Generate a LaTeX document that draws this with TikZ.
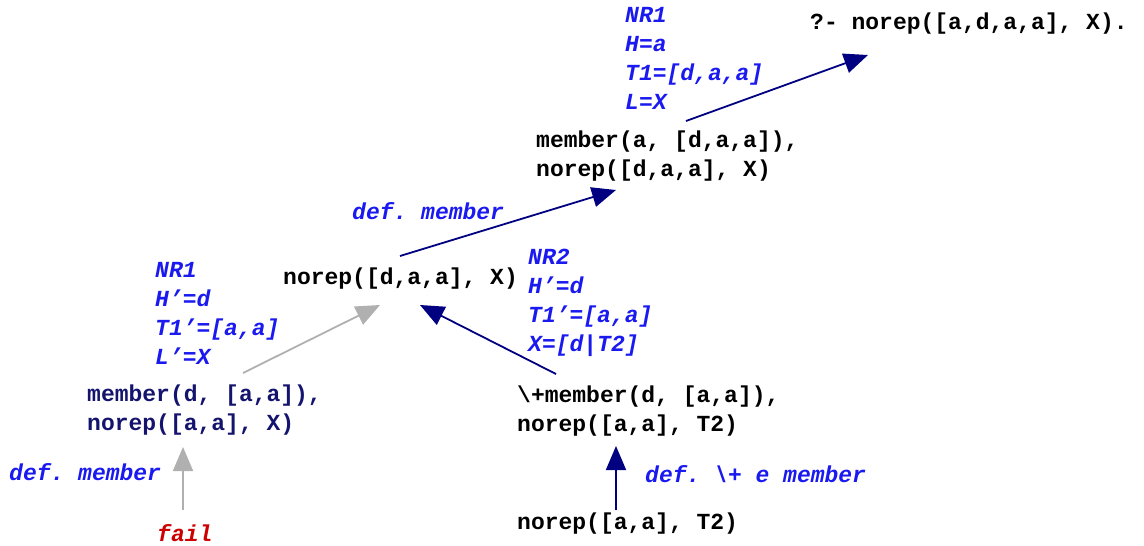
\documentclass[tikz,border=0pt]{standalone}
\usepackage{fontspec}
\setmonofont{Liberation Mono}
\usetikzlibrary{arrows.meta}
\definecolor{navyc}{RGB}{0,0,128}
\definecolor{navytext}{RGB}{20,20,110}
\definecolor{labblue}{RGB}{25,25,240}
\definecolor{failred}{RGB}{204,0,0}
\definecolor{grayc}{RGB}{176,176,176}
\begin{document}
\begin{tikzpicture}[x=1pt,y=-1pt,
  txt/.style={anchor=west,inner sep=0pt,align=left,
    font=\ttfamily\bfseries\fontsize{23}{28.7}\selectfont},
  lab/.style={txt,text=labblue,font=\ttfamily\bfseries\itshape\fontsize{23}{29}\selectfont},
  arrn/.style={draw=navyc,line width=1.8pt,-{Triangle[length=24pt,width=20pt]},fill=navyc},
  arrg/.style={draw=grayc,line width=1.8pt,-{Triangle[length=24pt,width=20pt]},fill=grayc}]
\useasboundingbox (0,0) rectangle (1144,546);
\node[txt] (Q) at (810,24) {?- norep([a,d,a,a], X).};
\node[lab] (L1) at (625,58) {NR1\\H=a\\T1=[d,a,a]\\L=X};
\node[txt] (M1) at (536,156) {member(a, [d,a,a]),\\norep([d,a,a], X)};
\node[lab] (D1) at (352,211) {def. member};
\node[txt] (N1) at (283,279) {norep([d,a,a], X)};
\node[lab] (L2) at (528,303) {NR2\\H’=d\\T1’=[a,a]\\X=[d|T2]};
\node[lab] (L3) at (155,313) {NR1\\H’=d\\T1’=[a,a]\\L’=X};
\node[txt,text=navytext] (M2) at (87,410) {member(d, [a,a]),\\norep([a,a], X)};
\node[txt] (M3) at (517,411) {\textbackslash+member(d, [a,a]),\\norep([a,a], T2)};
\node[lab] (D2) at (9,472) {def. member};
\node[lab,text=failred] (F) at (157,533) {fail};
\node[lab] (D3) at (645,474) {def. \textbackslash+ e member};
\node[txt] (N2) at (517,524) {norep([a,a], T2)};
\draw[arrn] ([shift={(150,-35)}]M1.west) -- ([shift={(58,31)}]Q.west);
\draw[arrn] ([shift={(117,-23)}]N1.west) -- ([shift={(80,34)}]M1.west);
\draw[arrg] ([shift={(156,-37)}]M2.west) -- ([shift={(97,26)}]N1.west);
\draw[arrn] ([shift={(39,-37)}]M3.west) -- ([shift={(137,26)}]N1.west);
\draw[arrg] ([shift={(26,-23)}]F.west) -- ([shift={(96,37)}]M2.west);
\draw[arrn] ([shift={(99,-14)}]N2.west) -- ([shift={(99,35)}]M3.west);
\end{tikzpicture}
\end{document}
